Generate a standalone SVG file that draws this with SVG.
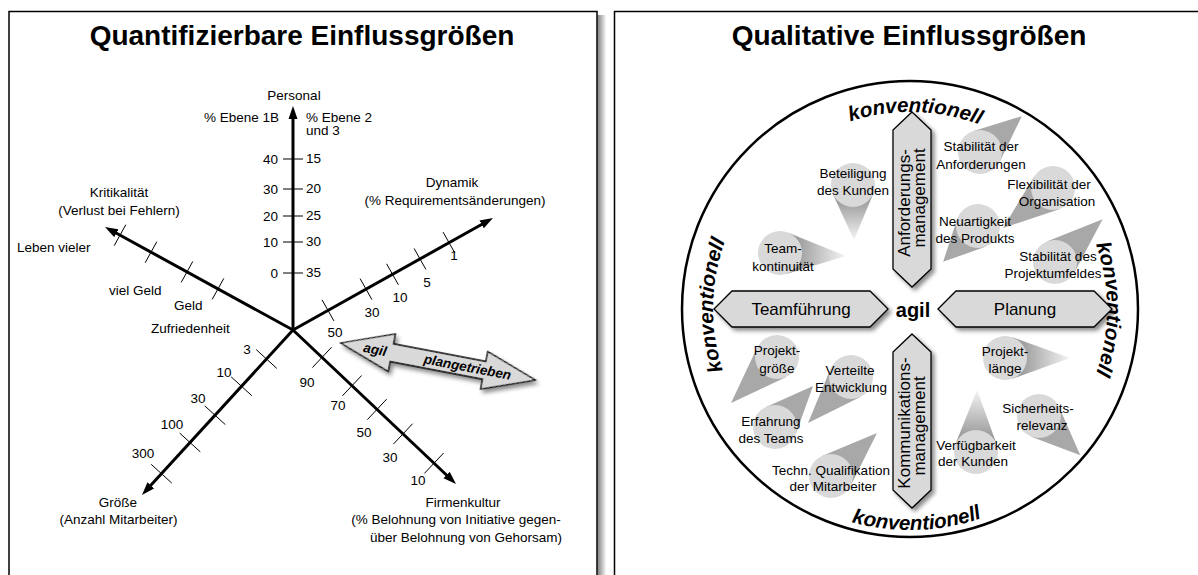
<svg xmlns="http://www.w3.org/2000/svg" width="1198" height="575" viewBox="0 0 1198 575">
  <style>
    text { font-family: "Liberation Sans", Arial, Helvetica, sans-serif; fill: #000; }
    .ttl { font-size: 28px; font-weight: bold; text-anchor: middle; }
    .lb { font-size: 13.5px; }
    .mid { text-anchor: middle; }
    .end { text-anchor: end; }
    .ax { stroke: #000; stroke-width: 3; fill: none; marker-end: url(#ah); }
    .tk { stroke: #000; stroke-width: 1; }
    .frame { fill: #fff; stroke: #000; stroke-width: 1.5; }
    .hex { fill: #d9d9d9; stroke: #000; stroke-width: 1.3; filter: url(#sh); }
    .hx { font-size: 17px; text-anchor: middle; }
    .kv { font-size: 20.5px; font-weight: bold; font-style: italic; text-anchor: middle; }
    .bub { fill: #d9d9d9; }
    .fade { fill: url(#coneFade); }
    .solid { fill: #a8a8a8; }
    .bt { font-size: 13.5px; text-anchor: middle; }
  </style>
  <defs>
    <marker id="ah" markerUnits="userSpaceOnUse" markerWidth="14" markerHeight="10" refX="5" refY="5" orient="auto">
      <path d="M0,0.5 L13,5 L0,9.5 z" fill="#000"/>
    </marker>
    <filter id="sh" x="-20%" y="-20%" width="150%" height="160%">
      <feDropShadow dx="3" dy="3" stdDeviation="2" flood-color="#000" flood-opacity="0.45"/>
    </filter>
    <linearGradient id="coneFade" x1="0" y1="0" x2="1" y2="0">
      <stop offset="0" stop-color="#8c8c8c"/>
      <stop offset="1" stop-color="#f4f4f4"/>
    </linearGradient>
    <linearGradient id="edgeShade" x1="0" y1="0" x2="1" y2="0">
      <stop offset="0" stop-color="#000" stop-opacity="0.5"/>
      <stop offset="1" stop-color="#000" stop-opacity="0"/>
    </linearGradient>
    <path id="arcOut" d="M910,506 A197,197 0 1,1 910,112 A197,197 0 1,1 910,506"/>
    <path id="arcIn" d="M689,309 A221,221 0 0,0 1131,309"/>
  </defs>

  <rect width="1198" height="575" fill="#fff"/>

  <!-- left panel: quantitative axes -->
  <g id="panel-left">
    <rect x="597.5" y="15" width="9" height="570" fill="url(#edgeShade)"/>
    <rect class="frame" x="9" y="11.5" width="588" height="600"/>
    <text class="ttl" x="302" y="45">Quantifizierbare Einflussgrößen</text>
  </g>

  <g id="connectors">
    <!-- axes -->
    <line class="ax" x1="293" y1="330" x2="293" y2="114"/>
    <line class="ax" x1="293" y1="330" x2="486" y2="222"/>
    <line class="ax" x1="293" y1="330" x2="112" y2="230.8"/>
    <line class="ax" x1="293" y1="330" x2="147.4" y2="489.1"/>
    <line class="ax" x1="293" y1="330" x2="450.2" y2="478.5"/>
    <!-- ticks: Personal -->
    <line class="tk" x1="283" y1="159" x2="303" y2="159"/>
    <line class="tk" x1="283" y1="189" x2="303" y2="189"/>
    <line class="tk" x1="283" y1="216" x2="303" y2="216"/>
    <line class="tk" x1="283" y1="242" x2="303" y2="242"/>
    <line class="tk" x1="283" y1="273" x2="303" y2="273"/>
    <!-- ticks: Dynamik -->
    <line class="tk" x1="322.1" y1="299.9" x2="333.9" y2="320.9"/>
    <line class="tk" x1="360.1" y1="278.6" x2="371.9" y2="299.6"/>
    <line class="tk" x1="386.6" y1="263.8" x2="398.4" y2="284.8"/>
    <line class="tk" x1="414.1" y1="248.4" x2="425.9" y2="269.4"/>
    <line class="tk" x1="443.1" y1="232.1" x2="454.9" y2="253.1"/>
    <!-- ticks: Kritikalitaet -->
    <line class="tk" x1="125.8" y1="224.7" x2="114.2" y2="245.7"/>
    <line class="tk" x1="156.8" y1="241.7" x2="145.2" y2="262.7"/>
    <line class="tk" x1="192.8" y1="261.4" x2="181.2" y2="282.4"/>
    <line class="tk" x1="223.8" y1="278.4" x2="212.2" y2="299.4"/>
    <!-- ticks: Groesse -->
    <line class="tk" x1="256.2" y1="349.6" x2="276.8" y2="368.4"/>
    <line class="tk" x1="231.2" y1="376.9" x2="251.8" y2="395.7"/>
    <line class="tk" x1="204.7" y1="405.8" x2="225.3" y2="424.6"/>
    <line class="tk" x1="179.7" y1="433.1" x2="200.3" y2="451.9"/>
    <line class="tk" x1="151.2" y1="464.3" x2="171.8" y2="483.1"/>
    <!-- ticks: Firmenkultur -->
    <line class="tk" x1="331.6" y1="347.2" x2="312.4" y2="367.6"/>
    <line class="tk" x1="361.6" y1="375.5" x2="342.4" y2="395.9"/>
    <line class="tk" x1="386.6" y1="399.2" x2="367.4" y2="419.6"/>
    <line class="tk" x1="412.6" y1="423.7" x2="393.4" y2="444.1"/>
    <line class="tk" x1="443.6" y1="453" x2="424.4" y2="473.4"/>
  </g>

  <g id="axis-personal" class="lb">
    <text class="mid" x="294" y="99.5">Personal</text>
    <text class="end" x="279" y="122">% Ebene 1B</text>
    <text x="306" y="122">% Ebene 2</text>
    <text x="306" y="135">und 3</text>
    <text class="end" x="278" y="164">40</text>
    <text class="end" x="278" y="194">30</text>
    <text class="end" x="278" y="221">20</text>
    <text class="end" x="278" y="247">10</text>
    <text class="end" x="278" y="278">0</text>
    <text x="306" y="163">15</text>
    <text x="306" y="193">20</text>
    <text x="306" y="220">25</text>
    <text x="306" y="246">30</text>
    <text x="306" y="277">35</text>
  </g>

  <g id="axis-dynamik" class="lb">
    <text class="mid" x="452" y="187">Dynamik</text>
    <text class="mid" x="455" y="205">(% Requirementsänderungen)</text>
    <text class="mid" x="335" y="337">50</text>
    <text class="mid" x="372" y="317">30</text>
    <text class="mid" x="400" y="302">10</text>
    <text class="mid" x="427" y="287">5</text>
    <text class="mid" x="454" y="260">1</text>
  </g>

  <g id="axis-kritikalitaet" class="lb">
    <text class="mid" x="119" y="197">Kritikalität</text>
    <text class="mid" x="119" y="215">(Verlust bei Fehlern)</text>
    <text x="17" y="252">Leben vieler</text>
    <text x="109" y="295">viel Geld</text>
    <text x="174" y="310">Geld</text>
    <text x="151" y="333">Zufriedenheit</text>
  </g>

  <g id="axis-groesse" class="lb">
    <text class="mid" x="118" y="507">Größe</text>
    <text class="mid" x="118.5" y="524">(Anzahl Mitarbeiter)</text>
    <text class="mid" x="247" y="354">3</text>
    <text class="mid" x="224" y="377">10</text>
    <text class="mid" x="198" y="403">30</text>
    <text class="mid" x="172" y="429">100</text>
    <text class="mid" x="143" y="458">300</text>
  </g>

  <g id="axis-firmenkultur" class="lb">
    <text class="mid" x="463" y="507">Firmenkultur</text>
    <text class="mid" x="456" y="524">(% Belohnung von Initiative gegen-</text>
    <text class="mid" x="466" y="542">über Belohnung von Gehorsam)</text>
    <text class="mid" x="307" y="387">90</text>
    <text class="mid" x="338" y="410">70</text>
    <text class="mid" x="364" y="437">50</text>
    <text class="mid" x="390" y="462">30</text>
    <text class="mid" x="418" y="485">10</text>
  </g>

  <g id="agil-plangetrieben" transform="translate(438,361.5) rotate(10.8)">
    <path class="hex" d="M-99,0 L-47,-19 L-47,-9 L47,-9 L47,-19 L99,0 L47,19 L47,9 L-47,9 L-47,19 Z"/>
    <text x="-64" y="4.5" style="font-size:13.5px;font-weight:bold;font-style:italic" text-anchor="middle">agil</text>
    <text x="30" y="4.5" style="font-size:13.5px;font-weight:bold;font-style:italic" text-anchor="middle">plangetrieben</text>
  </g>

  <!-- right panel: qualitative factors -->
  <g id="panel-right">
    <rect class="frame" x="614.5" y="11.5" width="600" height="600"/>
    <text class="ttl" x="909" y="45">Qualitative Einflussgrößen</text>
    <circle cx="910" cy="309" r="228" fill="#fff" stroke="#000" stroke-width="2.5"/>
    <text class="kv"><textPath href="#arcOut" startOffset="624">konventionell</textPath></text>
    <text class="kv"><textPath href="#arcOut" startOffset="313">konventionell</textPath></text>
    <text class="kv"><textPath href="#arcOut" startOffset="928">konventionell</textPath></text>
    <text class="kv"><textPath href="#arcIn" startOffset="354">konventionell</textPath></text>
  </g>

  <g id="b-beteiligung">
    <path class="fade" transform="translate(853,185) rotate(89)" d="M8.8,-20.2 L55,0 L8.8,20.2 Z"/>
    <circle class="bub" cx="853" cy="185" r="22"/>
    <text class="bt" x="853" y="178">Beteiligung</text>
    <text class="bt" x="853" y="195">des Kunden</text>
  </g>
  <g id="b-teamkontinuitaet">
    <path class="fade" transform="translate(780,253) rotate(2.6)" d="M7.3,-20.7 L66,0 L7.3,20.7 Z"/>
    <circle class="bub" cx="780" cy="253" r="22"/>
    <text class="bt" x="783" y="253">Team-</text>
    <text class="bt" x="783" y="271">kontinuität</text>
  </g>
  <g id="b-stabilitaet-anforderungen">
    <path class="solid" transform="translate(980,152) rotate(-40.6)" d="M8.8,-20.2 L55,0 L8.8,20.2 Z"/>
    <circle class="bub" cx="980" cy="152" r="22"/>
    <text class="bt" x="981" y="151">Stabilität der</text>
    <text class="bt" x="981" y="169">Anforderungen</text>
  </g>
  <g id="b-flexibilitaet">
    <path class="solid" transform="translate(1053,188) rotate(141.3)" d="M7.6,-20.7 L64,0 L7.6,20.7 Z"/>
    <circle class="bub" cx="1053" cy="188" r="22"/>
    <text class="bt" x="1049" y="189">Flexibilität der</text>
    <text class="bt" x="1057" y="206">Organisation</text>
  </g>
  <g id="b-neuartigkeit">
    <path class="solid" transform="translate(978,226) rotate(134.2)" d="M9.6,-19.8 L50,0 L9.6,19.8 Z"/>
    <circle class="bub" cx="978" cy="226" r="22"/>
    <text class="bt" x="975" y="226">Neuartigkeit</text>
    <text class="bt" x="975" y="243">des Produkts</text>
  </g>
  <g id="b-projektumfeld">
    <path class="solid" transform="translate(1055,262) rotate(-41.9)" d="M7.5,-20.7 L64,0 L7.5,20.7 Z"/>
    <circle class="bub" cx="1055" cy="262" r="22"/>
    <text class="bt" x="1058" y="261">Stabilität des</text>
    <text class="bt" x="1053" y="278">Projektumfeldes</text>
  </g>
  <g id="b-projektlaenge">
    <path class="fade" transform="translate(1005,358) rotate(0)" d="M7.5,-20.7 L65,0 L7.5,20.7 Z"/>
    <circle class="bub" cx="1005" cy="358" r="22"/>
    <text class="bt" x="1005" y="356">Projekt-</text>
    <text class="bt" x="1005" y="373">länge</text>
  </g>
  <g id="b-sicherheit">
    <path class="solid" transform="translate(1039,416) rotate(43.6)" d="M8.6,-20.3 L57,0 L8.6,20.3 Z"/>
    <circle class="bub" cx="1039" cy="416" r="22"/>
    <text class="bt" x="1038" y="413">Sicherheits-</text>
    <text class="bt" x="1042" y="430">relevanz</text>
  </g>
  <g id="b-verfuegbarkeit">
    <path class="fade" transform="translate(976,452) rotate(-89)" d="M7.8,-20.6 L62,0 L7.8,20.6 Z"/>
    <circle class="bub" cx="976" cy="452" r="22"/>
    <text class="bt" x="976" y="450">Verfügbarkeit</text>
    <text class="bt" x="973" y="466">der Kunden</text>
  </g>
  <g id="b-projektgroesse">
    <path class="solid" transform="translate(777,357) rotate(135)" d="M7.5,-20.7 L65,0 L7.5,20.7 Z"/>
    <circle class="bub" cx="777" cy="357" r="22"/>
    <text class="bt" x="777" y="355">Projekt-</text>
    <text class="bt" x="777" y="373">größe</text>
  </g>
  <g id="b-verteilt">
    <path class="solid" transform="translate(851,377) rotate(133)" d="M7.7,-20.6 L63,0 L7.7,20.6 Z"/>
    <circle class="bub" cx="851" cy="377" r="22"/>
    <text class="bt" x="850" y="375">Verteilte</text>
    <text class="bt" x="851" y="392">Entwicklung</text>
  </g>
  <g id="b-erfahrung">
    <path class="solid" transform="translate(775,427) rotate(-47.2)" d="M8.7,-20.2 L56,0 L8.7,20.2 Z"/>
    <circle class="bub" cx="775" cy="427" r="22"/>
    <text class="bt" x="771" y="426">Erfahrung</text>
    <text class="bt" x="771" y="443">des Teams</text>
  </g>
  <g id="b-qualifikation">
    <path class="solid" transform="translate(831,476) rotate(-43.1)" d="M7.7,-20.6 L63,0 L7.7,20.6 Z"/>
    <circle class="bub" cx="831" cy="476" r="22"/>
    <text class="bt" x="831" y="475">Techn. Qualifikation</text>
    <text class="bt" x="833" y="491">der Mitarbeiter</text>
  </g>

  <g id="h-teamfuehrung">
    <path class="hex" d="M714,309 L732,291 L870,291 L888,309 L870,327 L732,327 Z"/>
    <text class="hx" x="801" y="315">Teamführung</text>
  </g>
  <g id="h-planung">
    <path class="hex" d="M938,309 L956,291 L1094,291 L1112,309 L1094,327 L956,327 Z"/>
    <text class="hx" x="1025" y="315">Planung</text>
  </g>
  <g id="h-anforderung">
    <path class="hex" d="M912,112 L931,130 L931,269 L912,287 L893,269 L893,130 Z"/>
    <text class="hx" transform="translate(910,203) rotate(-90)">Anforderungs-</text>
    <text class="hx" transform="translate(925,198) rotate(-90)">management</text>
  </g>
  <g id="h-kommunikation">
    <path class="hex" d="M912,334 L931,352 L931,490 L912,508 L893,490 L893,352 Z"/>
    <text class="hx" transform="translate(910,423) rotate(-90)">Kommunikations-</text>
    <text class="hx" transform="translate(925,426) rotate(-90)">management</text>
  </g>
  <g id="center-agil">
    <text x="913" y="317" style="font-size:20px;font-weight:bold" text-anchor="middle">agil</text>
  </g>
</svg>
